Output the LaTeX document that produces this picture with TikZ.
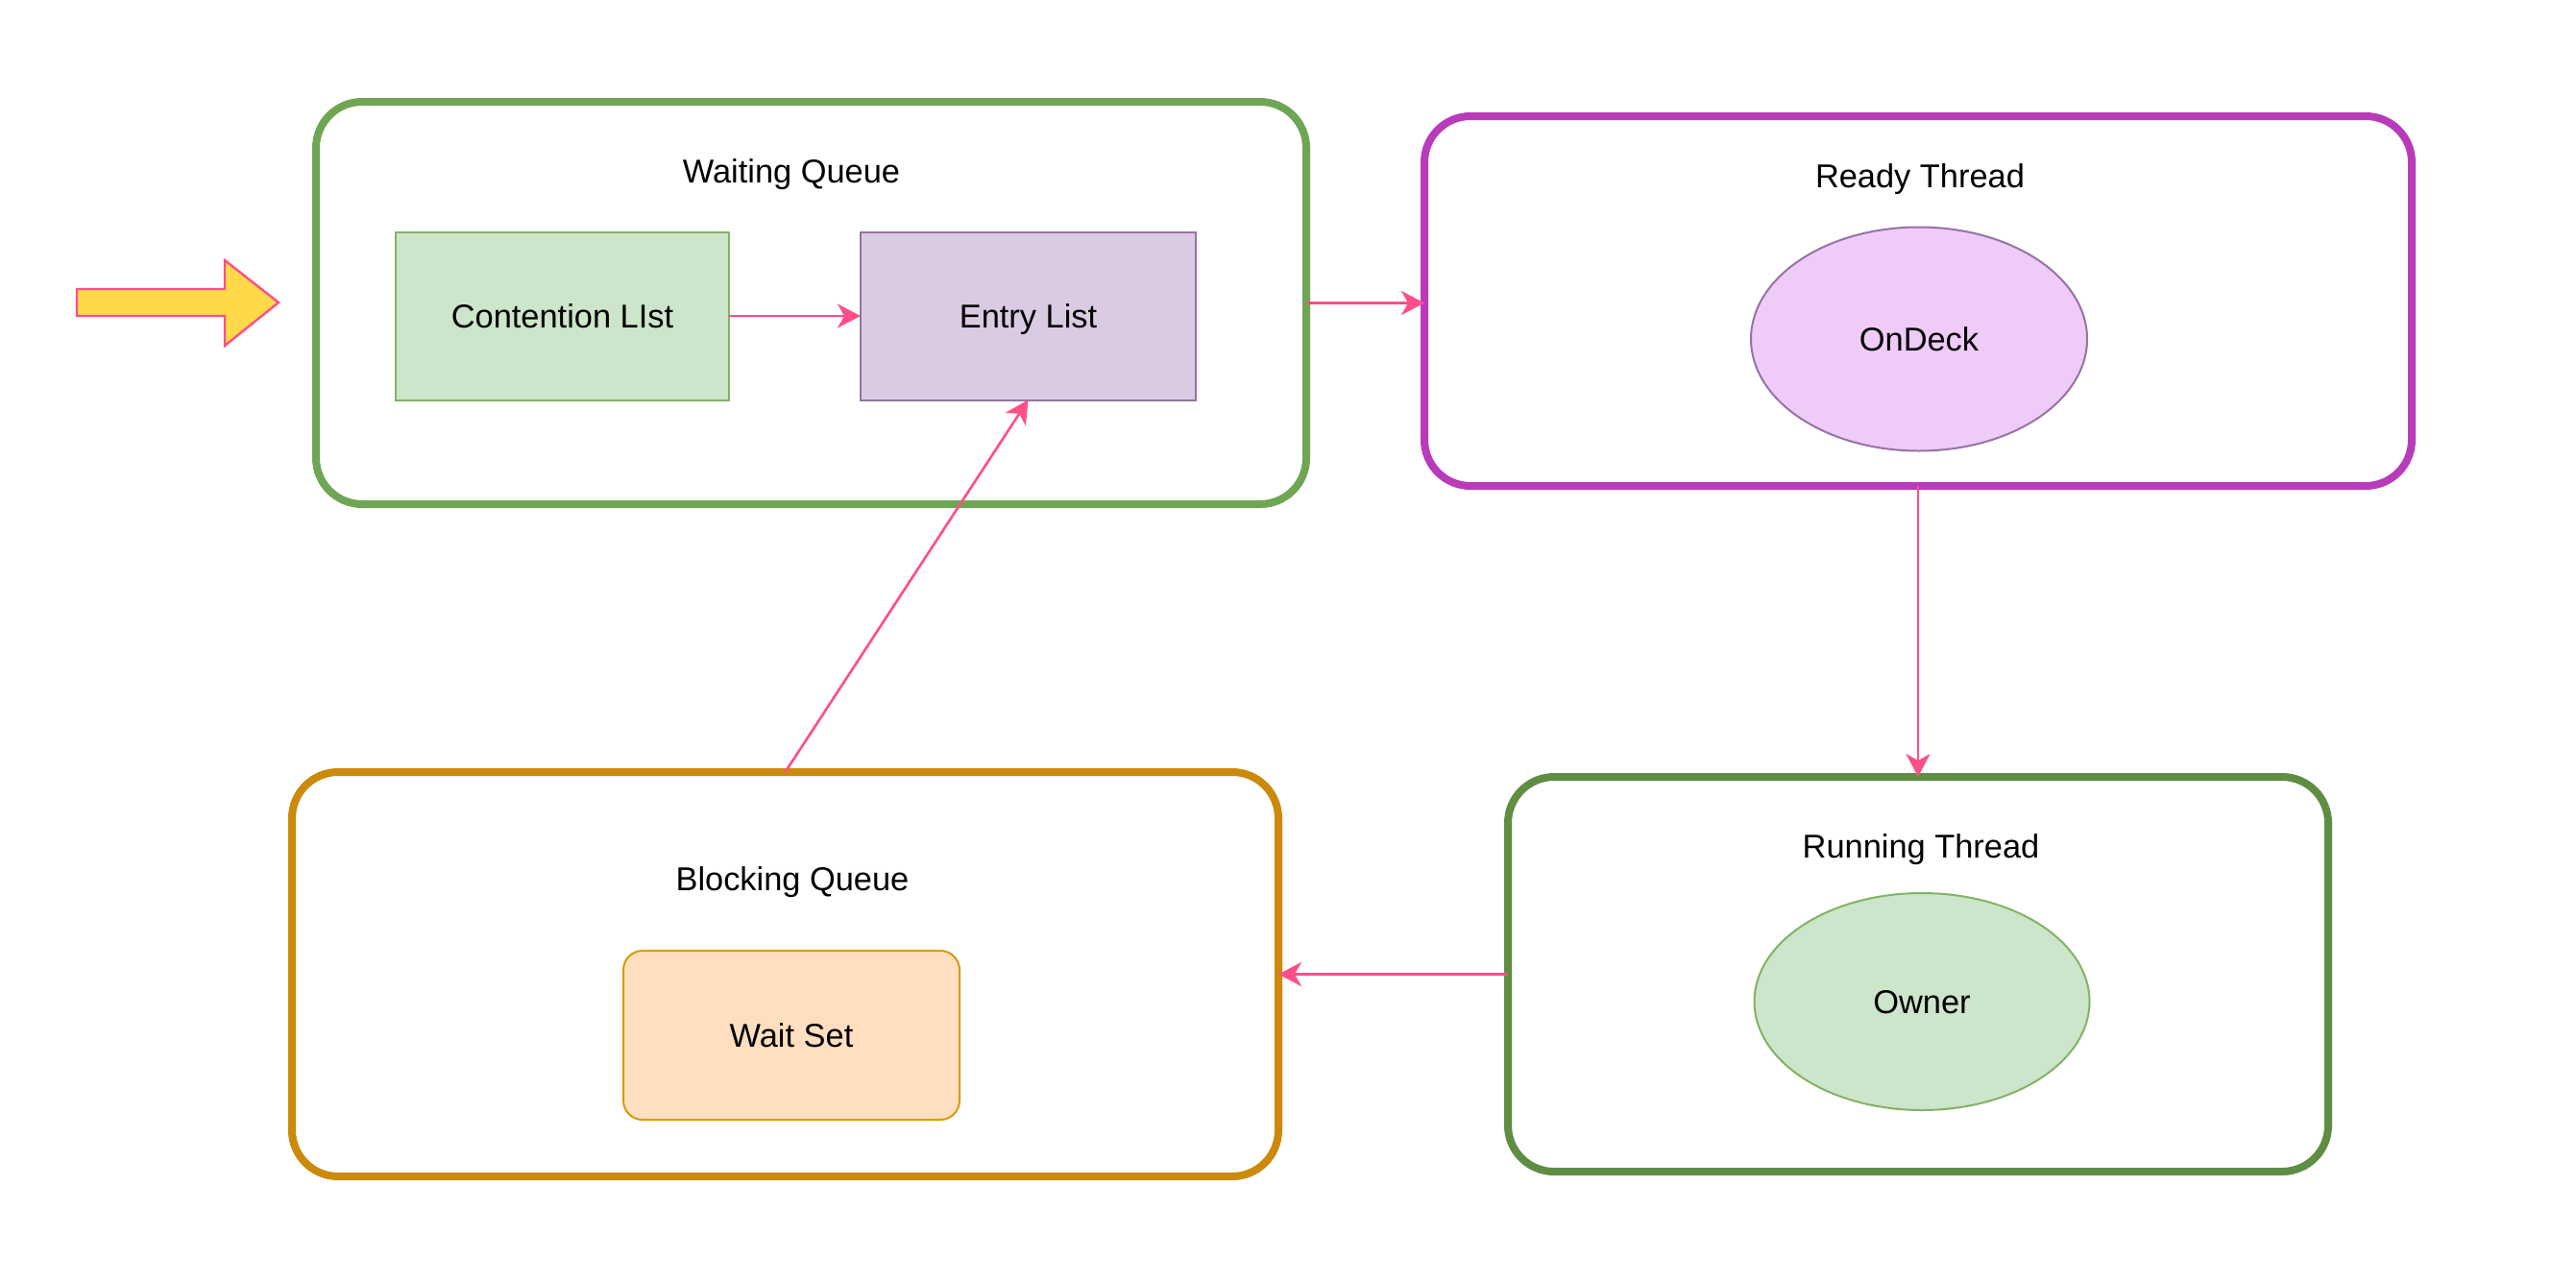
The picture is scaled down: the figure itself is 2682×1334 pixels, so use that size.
\documentclass[tikz,border=0pt]{standalone}
\usepackage{fontspec}
\setmainfont{Liberation Sans}
\usetikzlibrary{arrows.meta,shapes.geometric}
\definecolor{wqgreen}{HTML}{6FA653}
\definecolor{rungreen}{HTML}{5F8E43}
\definecolor{readypurple}{HTML}{B83BBA}
\definecolor{blockorange}{HTML}{CC8A0C}
\definecolor{pinkline}{HTML}{FF4F87}
\definecolor{yellowfill}{HTML}{FFD94A}
\definecolor{greenfill}{HTML}{CDE5CA}
\definecolor{greenstroke}{HTML}{82B366}
\definecolor{purplefill}{HTML}{DACBE2}
\definecolor{purplestroke}{HTML}{9673A6}
\definecolor{ondeckfill}{HTML}{EFCBF7}
\definecolor{orangefill}{HTML}{FFDFC0}
\definecolor{orangestroke}{HTML}{D79B00}
\begin{document}
\begin{tikzpicture}[x=0.5pt,y=-0.5pt,
  every node/.style={font=\fontsize{17.2pt}{20pt}\selectfont, inner sep=0pt, outer sep=0pt,
    text height=12.3pt, text depth=0pt},
  container/.style={draw, line width=4pt, rounded corners=24pt},
  inner/.style={draw, line width=1pt},
  conn/.style={draw=pinkline, line width=1.3pt, -{Stealth[length=12pt,width=12.5pt,inset=3.5pt]}}
]
\useasboundingbox (0,0) rectangle (2682,1334);
\fill[white] (0,0) rectangle (2682,1334);

% containers
\node[container, draw=wqgreen, minimum width=515.5pt, minimum height=209.5pt] (wq) at (844.5,315.5) {};
\node[container, draw=readypurple, minimum width=514pt, minimum height=192.5pt] (ready) at (1997,313.5) {};
\node[container, draw=rungreen, minimum width=427pt, minimum height=205.5pt] (run) at (1997,1014.5) {};
\node[container, draw=blockorange, minimum width=513.5pt, minimum height=210.5pt] (block) at (817.5,1014.5) {};

% titles
\node (wqt) at (824,178.5) {Waiting Queue};
\node (readyt) at (1999,183.5) {Ready Thread};
\node (blockt) at (825,915) {Blocking Queue};
\node (runt) at (2000,881.5) {Running Thread};

% inner nodes
\node[inner, draw=greenstroke, fill=greenfill, minimum width=173.5pt, minimum height=87.5pt] (cont) at (585.5,329) {Contention LIst};
\node[inner, draw=purplestroke, fill=purplefill, minimum width=174.5pt, minimum height=87.5pt] (entry) at (1070.5,329) {Entry List};
\node[inner, draw=purplestroke, fill=ondeckfill, ellipse, minimum width=175pt, minimum height=116.5pt] (ondeck) at (1998,353) {OnDeck};
\node[inner, draw=greenstroke, fill=greenfill, ellipse, minimum width=174.5pt, minimum height=113pt] (owner) at (2001,1043) {Owner};
\node[inner, draw=orangestroke, fill=orangefill, rounded corners=10pt, minimum width=175pt, minimum height=88pt] (wait) at (824,1078) {Wait Set};

% big entry arrow
\filldraw[fill=yellowfill, draw=pinkline, line width=1.2pt, line join=miter]
  (80,301) -- (234,301) -- (234,271) -- (290,315) -- (234,360) -- (234,329) -- (80,329) -- cycle;

% connectors
\draw[conn] (cont.east) -- (entry.west);
\draw[conn] (wq.east) -- (wq.east -| ready.west);
\draw[conn] (ready.south) -- (run.north);
\draw[conn] (run.west) -- (block.east);
\draw[conn] (block.north) -- (entry.south);
\end{tikzpicture}
\end{document}
